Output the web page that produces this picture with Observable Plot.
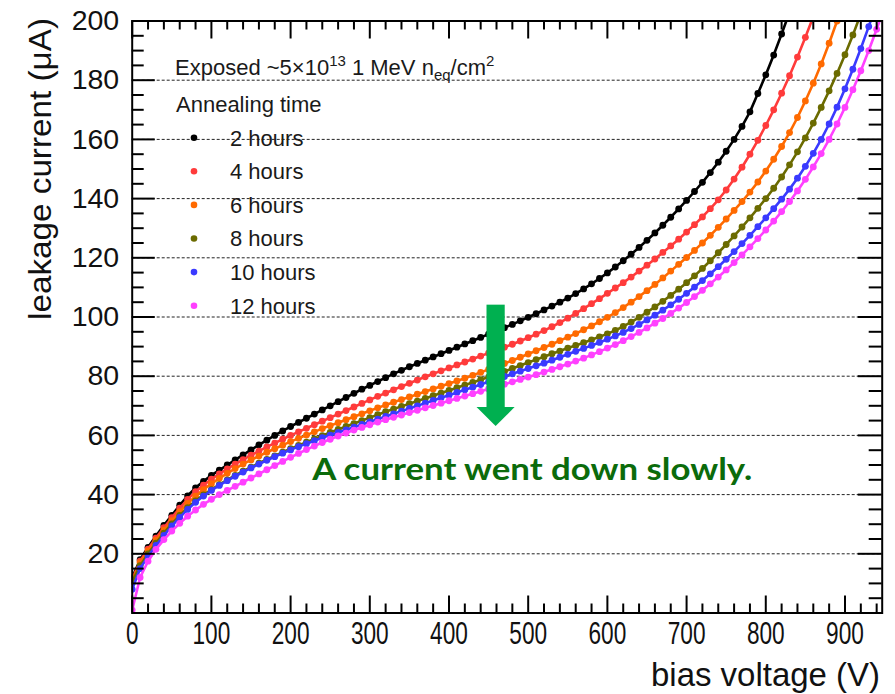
<!DOCTYPE html>
<html><head><meta charset="utf-8">
<script src="https://cdn.jsdelivr.net/npm/d3@7"></script>
<script src="https://cdn.jsdelivr.net/npm/@observablehq/plot@0.6"></script>
<style>
body{margin:0;background:#fff;}
#wrap{position:relative;width:895px;height:694px;}
</style></head><body><div id="wrap"></div>
<script>
// ---- data ----
const seriesNames = ["2 hours","4 hours","6 hours","8 hours","10 hours","12 hours"];
const seriesColors = ["#000000","#ff3b3b","#ff6a00","#6b6b00","#3a3aff","#ff40ff"];
const voltageStep = 10; // V between measurement points, starting at 0 V

const current2h = [12,18,22.2,26,29.6,33,36.4,39.6,42.3,44.5,
46.5,48.3,50,51.7,53.4,55.1,56.8,58.4,60,61.5,
63,64.4,65.8,67.2,68.6,70,71.4,72.8,74.2,75.6,
76.9,78.2,79.5,80.8,82,83.2,84.3,85.4,86.5,87.6,
88.7,89.8,90.9,92,93.1,94.2,95.3,96.4,97.5,98.7,
99.9,101.1,102.4,103.7,105,106.4,107.9,109.5,111.2,113,
114.9,116.9,119,121.2,123.5,125.9,128.4,131,133.7,136.5,
139.4,142.4,145.5,148.8,152.3,156,160,164.4,169.3,175.5,
181.8,188.5,195.6,203];
const current4h = [11.5,17.5,21.6,25.3,28.8,32.2,35.4,38.4,41,43.2,
45.2,47,48.7,50.3,51.8,53.3,54.7,56.1,57.4,58.7,
60,61.2,62.4,63.6,64.8,66,67.2,68.4,69.6,70.8,
72,73.2,74.3,75.4,76.5,77.6,78.7,79.8,80.8,81.8,
82.8,83.8,84.8,85.8,86.8,87.8,88.8,89.8,90.8,91.9,
93,94.2,95.4,96.7,98.1,99.6,101.2,102.8,104.5,106.2,
108,109.8,111.6,113.5,115.5,117.5,119.6,121.8,124,126.3,
128.7,131.2,133.8,136.6,139.6,142.9,146.6,150.6,155,159.7,
164.7,170,175.6,181.5,187.8,194.5,201.5];
const current6h = [11,17,21,24.6,28,31.2,34.2,37,39.5,41.7,
43.7,45.5,47.2,48.8,50.3,51.7,53,54.3,55.5,56.7,
57.9,59,60.1,61.2,62.3,63.3,64.3,65.3,66.3,67.3,
68.3,69.3,70.3,71.2,72.1,73,73.9,74.8,75.7,76.6,
77.5,78.4,79.3,80.3,81.3,82.3,83.3,84.3,85.3,86.4,
87.5,88.6,89.7,90.8,92,93.2,94.4,95.7,97,98.4,
99.9,101.5,103.2,105,106.9,108.9,111,113.2,115.5,117.8,
120.1,122.5,125,127.6,130.3,133.1,136,139,142.2,145.6,
149.3,153.3,157.6,162.3,167.4,173,179,185.5,192.5,200,
208];
const current8h = [10.5,16,20,23.6,27,30.1,33,35.6,37.9,39.9,
41.7,43.4,45,46.5,47.9,49.3,50.6,51.9,53.1,54.3,
55.5,56.6,57.7,58.8,59.9,61,62,63,64,65,
66,67,68,68.9,69.8,70.7,71.6,72.5,73.4,74.3,
75.2,76.1,77,77.9,78.8,79.7,80.6,81.6,82.6,83.6,
84.6,85.6,86.6,87.6,88.5,89.5,90.4,91.3,92.3,93.3,
94.3,95.5,96.8,98.3,99.9,101.6,103.4,105.3,107.3,109.4,
111.6,113.9,116.4,119,121.7,124.5,127.4,130.4,133.5,136.7,
140,143.5,147.3,151.4,155.8,160.5,165.5,170.8,176.4,182.3,
188.6,195.3,202.4];
const current10h = [8,15,19.2,22.8,26.2,29.4,32.3,35,37.4,39.5,
41.4,43.1,44.7,46.2,47.6,49,50.3,51.6,52.8,54,
55.1,56.2,57.2,58.2,59.2,60.1,61,61.9,62.8,63.7,
64.6,65.5,66.4,67.3,68.2,69.1,70,70.9,71.8,72.7,
73.6,74.5,75.4,76.3,77.2,78.1,79,79.9,80.8,81.7,
82.6,83.5,84.4,85.4,86.4,87.4,88.4,89.4,90.4,91.4,
92.5,93.6,94.8,96.1,97.5,99,100.6,102.3,104.1,106,
108,110.1,112.3,114.6,117,119.5,122.1,124.8,127.6,130.5,
133.5,136.6,139.8,143.2,146.9,150.9,155.3,160,165.2,170.9,
177.1,183.7,190.7,198.1,206];
const current12h = [1,12,17.5,21.5,24.8,27.7,30.3,32.7,34.8,36.7,
38.4,40,41.4,42.8,44.2,45.6,47,48.4,49.8,51.2,
52.6,53.9,55.2,56.4,57.6,58.7,59.8,60.8,61.8,62.7,
63.6,64.5,65.3,66.1,66.9,67.7,68.5,69.3,70.1,70.9,
71.7,72.5,73.3,74.1,74.9,75.7,76.5,77.3,78.1,78.9,
79.7,80.5,81.4,82.3,83.2,84.1,85.1,86.1,87.2,88.3,
89.5,90.7,92,93.4,94.8,96.3,97.9,99.5,101.2,103,
104.9,106.9,109,111.2,113.5,115.9,118.4,121,123.7,126.5,
129.4,132.4,135.6,139,142.6,146.5,150.7,155.2,160,165.2,
170.8,176.8,183.2,190,197.2,204.8];
const currents = [current2h,current4h,current6h,current8h,current10h,current12h];

const xTickLabels = [0,100,200,300,400,500,600,700,800,900];
const yTickLabels = [20,40,60,80,100,120,140,160,180,200];
const yMajorTicks = [0,20,40,60,80,100,120,140,160,180,200];
const gridLevels = [20,40,60,80,100,120,140,160,180];
const xMinorTicks = d3.range(20,950,20).filter(v=>v%100!==0);
const yMinorTicks = d3.range(5,200,5).filter(v=>v%20!==0);

const arrowShaft = [{x1:448, x2:471, y1:69.4, y2:104}];
const arrowHead = [{x:435.4, y1:69.4, y2:69.4},{x:459.5, y1:69.4, y2:63},{x:483.5, y1:69.4, y2:69.4}];
const note = [{x:505, y:45.1, text:"A current went down slowly."}];

const table = [];
seriesNames.forEach((s,i)=>currents[i].forEach((v,j)=>table.push({series:s, V:j*voltageStep, I:v})));

// ---- layout ----
const W=895,H=694,mL=131.7,mR=13.3,mT=20.5,mB=81.5;
const innerW=W-mL-mR, innerH=H-mT-mB;
const font = "'Liberation Sans', Arial, Helvetica, sans-serif";

const marks = [
  Plot.ruleY(gridLevels,{stroke:"#222",strokeWidth:1,strokeDasharray:"3,2"})
];
seriesNames.forEach(s=>{
  const d = table.filter(r=>r.series===s);
  marks.push(Plot.line(d,{x:"V",y:"I",stroke:"series",strokeWidth:2.6,clip:true}));
  marks.push(Plot.dot(d,{x:"V",y:"I",fill:"series",r:3.4,clip:true}));
});
marks.push(
  Plot.rect(arrowShaft,{x1:"x1",x2:"x2",y1:"y1",y2:"y2",fill:"#00b050"}),
  Plot.areaY(arrowHead,{x:"x",y1:"y1",y2:"y2",fill:"#00b050"}),
  Plot.text(note,{x:"x",y:"y",text:"text",fontSize:31,fontWeight:"bold",fontFamily:"Lato, 'Open Sans', sans-serif",fill:"#0b6b0b",textAnchor:"middle",lineAnchor:"bottom"}),
  // ticks (inside, on all four sides)
  Plot.tickY(yMajorTicks,{y:d=>d,insetRight:innerW-23,stroke:"#000",strokeWidth:2}),
  Plot.tickY(yMinorTicks,{y:d=>d,insetRight:innerW-12,stroke:"#000",strokeWidth:2}),
  Plot.tickY(yMajorTicks,{y:d=>d,insetLeft:innerW-24,stroke:"#000",strokeWidth:2}),
  Plot.tickY(yMinorTicks,{y:d=>d,insetLeft:innerW-13,stroke:"#000",strokeWidth:2}),
  Plot.tickX(xTickLabels,{x:d=>d,insetTop:innerH-17,stroke:"#000",strokeWidth:2}),
  Plot.tickX(xMinorTicks,{x:d=>d,insetTop:innerH-9,stroke:"#000",strokeWidth:2}),
  Plot.tickX(xTickLabels,{x:d=>d,insetBottom:innerH-18,stroke:"#000",strokeWidth:2}),
  Plot.tickX(xMinorTicks,{x:d=>d,insetBottom:innerH-9,stroke:"#000",strokeWidth:2}),
  Plot.frame({stroke:"#000",strokeWidth:2}),
  Plot.axisY(yTickLabels,{anchor:"left",tickSize:0,tickPadding:13,fontSize:28.5,label:null,fill:"#111"}),
  Plot.axisX(xTickLabels,{anchor:"bottom",tickSize:0,tickPadding:9,fontSize:31,label:null,fill:"#111"})
);

const plot = Plot.plot({
  width:W,height:H,marginLeft:mL,marginRight:mR,marginTop:mT,marginBottom:mB,
  style:{fontFamily:font,background:"#fff",overflow:"visible"},
  x:{domain:[0,947]},
  y:{domain:[0,200]},
  color:{domain:seriesNames,range:seriesColors},
  marks
});
document.getElementById("wrap").appendChild(plot);

const svg = d3.select(plot);
// condensed x tick labels
svg.selectAll("g[aria-label='x-axis tick label'] text").each(function(){
  const t = d3.select(this); const n = t.text().length;
  t.attr("textLength", 12.6*n).attr("lengthAdjust","spacingAndGlyphs");
});
svg.selectAll("g[aria-label='text'] text").attr("textLength",440).attr("lengthAdjust","spacingAndGlyphs");

// axis titles
svg.append("text").attr("transform","translate(51,18) rotate(-90)").attr("text-anchor","end")
  .attr("font-size",32).attr("fill","#111").attr("textLength",302).attr("lengthAdjust","spacingAndGlyphs")
  .text("leakage current (μA)");
svg.append("text").attr("x",880).attr("y",686).attr("text-anchor","end")
  .attr("font-size",34).attr("fill","#111").attr("textLength",229).attr("lengthAdjust","spacingAndGlyphs")
  .text("bias voltage (V)");

// legend
const lg = svg.append("g").attr("font-size",22).attr("fill","#1a1a1a").attr("text-anchor","start");
const t1 = lg.append("text").attr("x",175).attr("y",75);
t1.append("tspan").text("Exposed ~5×10");
t1.append("tspan").attr("dy",-9).attr("font-size",15).text("13");
t1.append("tspan").attr("dy",9).text(" 1 MeV n");
t1.append("tspan").attr("dy",5).attr("font-size",15).text("eq");
t1.append("tspan").attr("dy",-5).text("/cm");
t1.append("tspan").attr("dy",-9).attr("font-size",15).text("2");
lg.append("text").attr("x",176).attr("y",111.5).text("Annealing time");
const color = plot.scale("color");
seriesNames.forEach((s,i)=>{
  const cy = 137.7 + 33.6*i;
  lg.append("circle").attr("cx",194).attr("cy",cy).attr("r",3.3).attr("fill",color.apply(s));
  lg.append("text").attr("x",230).attr("y",cy+7.8).text(s);
});
</script></body></html>
